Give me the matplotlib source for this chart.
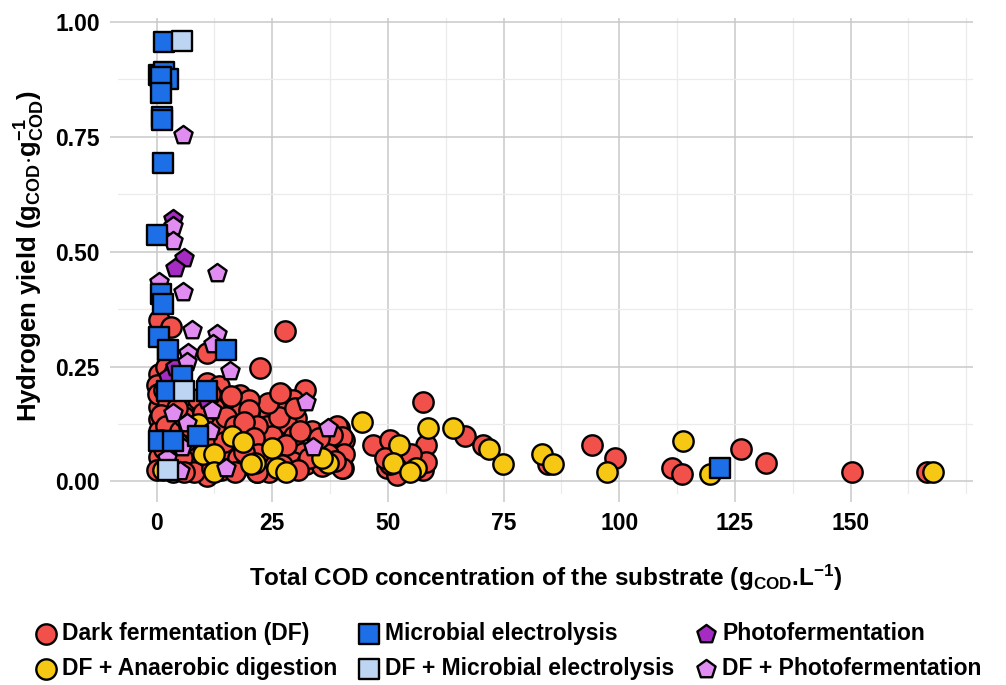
import numpy as np
import matplotlib
matplotlib.use("Agg")
import matplotlib.pyplot as plt
from matplotlib.ticker import FixedLocator, MultipleLocator, FormatStrFormatter

plt.rcParams['font.family'] = ['Liberation Sans', 'DejaVu Sans']
plt.rcParams['font.weight'] = 'bold'
plt.rcParams['axes.labelweight'] = 'bold'
plt.rcParams['mathtext.fontset'] = 'custom'
plt.rcParams['mathtext.rm'] = 'Liberation Sans:bold'
plt.rcParams['mathtext.bf'] = 'Liberation Sans:bold'
plt.rcParams['mathtext.default'] = 'bf'

# ---- data (x = g COD/L, y = g COD/g COD) ----
df_pts = [
    (27.7, 0.328), (22.3, 0.246), (57.5, 0.172), (46.7, 0.08), (50.4, 0.091), (58.3, 0.08),
    (66.6, 0.098), (70.5, 0.08), (94.2, 0.08), (99, 0.05), (84.5, 0.037), (49.7, 0.03),
    (51.9, 0.015), (57.5, 0.026), (58.3, 0.043), (39.5, 0.117), (40.2, 0.063), (40.2, 0.03),
    (40.6, 0.091), (111.5, 0.03), (113.5, 0.017), (126.4, 0.07), (131.6, 0.041), (150.2, 0.02),
    (166.4, 0.02), (55, 0.059), (50.4, 0.037), (49.3, 0.052), (27, 0.189), (32, 0.2),
    (29.4, 0.178), (27.7, 0.152), (30.2, 0.139), (20, 0.174), (22.7, 0.152), (28, 0.128),
    (23.8, 0.12), (25, 0.098), (29.8, 0.098), (33.5, 0.109), (39.1, 0.12), (40, 0.096),
    (40.6, 0.059), (40, 0.03), (31.6, 0.063), (34.6, 0.074), (20.7, 0.113), (20.7, 0.076),
    (21.6, 0.02), (24.4, 0.02), (29.4, 0.043), (32.4, 0.037), (35.7, 0.033), (20, 0.15),
    (36, 0.085), (38, 0.1), (26, 0.06), (28, 0.08), (33, 0.05), (37, 0.06), (31, 0.11),
    (26.5, 0.14), (24, 0.17), (30, 0.16), (35, 0.095), (38.5, 0.045), (23, 0.05), (27, 0.035),
    (30.5, 0.025),
    (0.6, 0.352), (3.2, 0.337), (10.8, 0.28), (0.6, 0.233), (10.8, 0.215), (13.6, 0.207),
    (18, 0.189), (20, 0.178), (26.6, 0.193), (0.6, 0.163), (0.6, 0.135), (0.6, 0.109),
    (0.6, 0.054), (0.2, 0.026), (7.1, 0.163), (8.6, 0.135), (13.2, 0.141), (15.1, 0.167),
    (18, 0.15), (20, 0.156), (21.6, 0.12), (18, 0.098), (20.1, 0.076), (13.6, 0.07),
    (9.3, 0.054), (7.6, 0.033), (10.8, 0.011), (18, 0.033), (21.6, 0.02), (3.5, 0.098),
    (4.3, 0.135), (5.6, 0.185), (13, 0.178), (15.8, 0.098), (7.8, 0.076), (11.5, 0.048),
    (0, 0.21), (0.3, 0.19), (1.5, 0.2), (2.5, 0.17), (1, 0.145), (2, 0.12), (3, 0.08),
    (1.5, 0.07), (2.5, 0.04), (4, 0.06), (5, 0.11), (6, 0.14), (6.5, 0.09), (5.5, 0.05),
    (8, 0.11), (9, 0.18), (10, 0.15), (11, 0.12), (12, 0.1), (12.5, 0.16), (14, 0.12),
    (15, 0.14), (16, 0.185), (17, 0.12), (16.5, 0.07), (15, 0.045), (14, 0.025), (17.5, 0.05),
    (19, 0.13), (19.5, 0.04), (21, 0.095), (22, 0.06), (9.5, 0.09), (8, 0.02), (3.5, 0.02),
    (6, 0.02), (4.5, 0.16), (2, 0.25), (12, 0.03), (17, 0.02), (19, 0.065), (11, 0.075),
    (1, 0.09), (7, 0.12), (11.5, 0.19), (14.5, 0.085), (3, 0.21), (4, 0.24),
]
df_x = [p[0] for p in df_pts]
df_y = [p[1] for p in df_pts]

ad_x = [44.5, 52.3, 51.2, 56, 54.7, 58.6, 64, 71.8, 74.8, 83.4, 85.6, 97.3, 113.7, 119.5,
        167.7, 25, 21.2, 26, 28, 37, 35.7, 16.2, 18.6, 10, 12.5, 12.5, 20.5, 8.9, 1.3]
ad_y = [0.13, 0.08, 0.041, 0.03, 0.02, 0.117, 0.117, 0.07, 0.037, 0.059, 0.039, 0.02, 0.089,
        0.017, 0.02, 0.072, 0.041, 0.03, 0.02, 0.041, 0.052, 0.098, 0.085, 0.059, 0.059,
        0.02, 0.037, 0.124, 0.026]

me_x = [1.7, 0.5, 1.5, 2.5, 1.0, 1.0, 1.2, 1.2, 1.3, 0.2, 1.0, 1.3, 0.6, 2.4, 15.1, 5.6,
        2.2, 10.8, 0.6, 3.5, 8.9, 121.7]
me_y = [0.955, 0.885, 0.89, 0.875, 0.88, 0.845, 0.793, 0.787, 0.693, 0.537, 0.407, 0.387,
        0.315, 0.287, 0.287, 0.23, 0.196, 0.196, 0.087, 0.087, 0.098, 0.03]

dfme_x = [5.6, 6.0, 2.4]
dfme_y = [0.957, 0.196, 0.026]

pf_x = [3.5, 6.0, 3.9, 2.4, 3.9, 10.8]
pf_y = [0.57, 0.487, 0.465, 0.228, 0.248, 0.178]

dfpf_x = [5.8, 3.5, 3.5, 13, 0.6, 5.8, 7.6, 13, 12.3, 6.7, 6.5, 15.8, 32.4, 3.5, 11.9, 6.5,
          11.5, 37, 33.7, 2.2, 5, 15.1, 5.4]
dfpf_y = [0.754, 0.555, 0.522, 0.454, 0.433, 0.413, 0.33, 0.32, 0.298, 0.28, 0.26, 0.241,
          0.172, 0.148, 0.156, 0.128, 0.109, 0.117, 0.076, 0.052, 0.022, 0.03, 0.076]

x_ticks = [0, 25, 50, 75, 100, 125, 150]
y_ticks = [0.0, 0.25, 0.5, 0.75, 1.0]

fig = plt.figure(figsize=(10.06, 6.85), dpi=100)
ax = fig.add_axes([0.117, 0.279, 0.85, 0.694])

kw = dict(edgecolors='black', linewidths=1.7, zorder=3)
s_c = 215
h1 = ax.scatter(df_x, df_y, s=s_c, marker='o', c='#F2504B', label='Dark fermentation (DF)', **kw)
h2 = ax.scatter(ad_x, ad_y, s=s_c, marker='o', c='#F6C813', label='DF + Anaerobic digestion', **kw)
h5 = ax.scatter(pf_x, pf_y, s=190, marker='p', c='#A52BC2', label='Photofermentation', **kw)
h6 = ax.scatter(dfpf_x, dfpf_y, s=190, marker='p', c='#E08CF0', label='DF + Photofermentation', **kw)
h3 = ax.scatter(me_x, me_y, s=195, marker='s', c='#1C6FE6', label='Microbial electrolysis', **kw)
h4 = ax.scatter(dfme_x, dfme_y, s=195, marker='s', c='#BDD5F2', label='DF + Microbial electrolysis', **kw)

ax.set_xlim(-8.4, 176.4)
ax.set_ylim(-0.027, 1.007)
ax.xaxis.set_major_locator(FixedLocator(x_ticks))
ax.xaxis.set_minor_locator(MultipleLocator(12.5))
ax.yaxis.set_major_locator(FixedLocator(y_ticks))
ax.yaxis.set_minor_locator(MultipleLocator(0.125))
ax.yaxis.set_major_formatter(FormatStrFormatter('%.2f'))
ax.grid(which='major', color='#C9C9C9', linewidth=1.1, zorder=0)
ax.grid(which='minor', color='#EBEBEB', linewidth=0.9, zorder=0)
ax.set_axisbelow(True)
for sp in ax.spines.values():
    sp.set_visible(False)
ax.tick_params(which='major', length=6, width=1.1, color='#C9C9C9', labelsize=16.5, pad=7)
ax.tick_params(which='minor', length=0)

ax.set_xlabel(r'Total COD concentration of the substrate (g$_{COD}$.L$^{-1}$)', fontsize=17.5,
              labelpad=20)
ax.set_ylabel(r'Hydrogen yield (g$_{COD}$$\cdot$g$_{COD}^{-1}$)', fontsize=18.5, labelpad=6)

handles = [h1, h2, h3, h4, h5, h6]
fig.legend(handles=handles, labels=[h.get_label() for h in handles], loc='lower center',
           bbox_to_anchor=(0.505, -0.016), ncol=3, frameon=False, fontsize=16.5,
           handlelength=1.0, handletextpad=0.2, columnspacing=0.9, labelspacing=0.5,
           borderaxespad=0.3, markerscale=1.0)

fig.savefig('out.png', dpi=100)
